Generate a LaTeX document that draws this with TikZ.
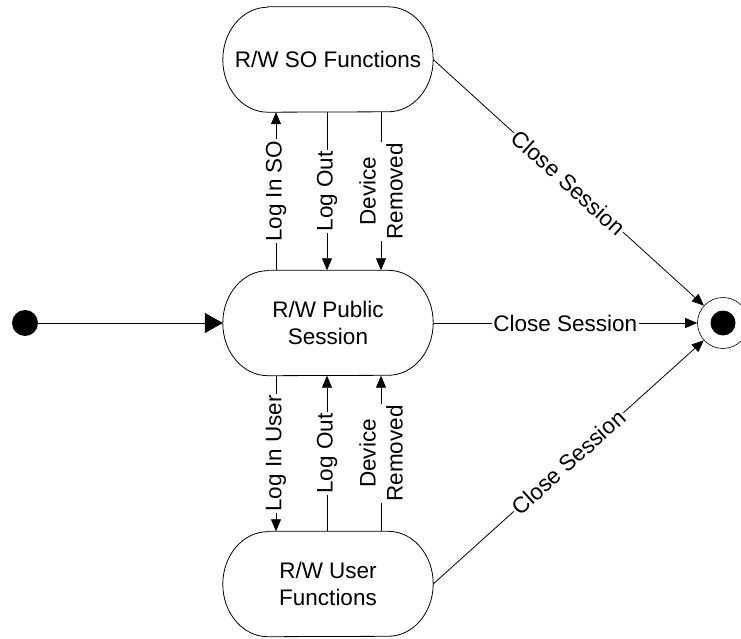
\documentclass[tikz,border=0pt]{standalone}
\usepackage{fontspec}
\setmainfont{Liberation Sans}
\usetikzlibrary{arrows.meta}
\begin{document}
\begin{tikzpicture}[x=1pt,y=1pt,
  every node/.style={font=\fontsize{22.5}{27}\selectfont},
  state/.style={minimum width=210pt,minimum height=105pt,align=center,inner sep=0pt},
  outline/.style={line width=0.8pt},
  lbl/.style={fill=white,inner sep=1.5pt,align=center},
  trans/.style={line width=0.8pt,-{Triangle[length=12pt,width=10pt]}},
  bigtrans/.style={line width=0.8pt,-{Triangle[length=18pt,width=20pt]}},
  ]
\useasboundingbox (0,0) rectangle (741,638);
\node[state] (so) at (328,578.5) {R/W SO Functions};
\node[state] (pub) at (328,315) {R/W Public\\Session};
\node[state] (usr) at (328,54) {R/W User\\Functions};
\node[circle,fill=black,minimum size=26pt,inner sep=0pt] (init) at (25,315) {};
\node[circle,draw,line width=0.6pt,minimum size=51pt,inner sep=0pt] (fin) at (723,315) {};
\node[circle,fill=black,minimum size=25pt,inner sep=0pt] (finc) at (723,315) {};
\foreach \n in {so,pub,usr}{
  \draw[outline] ([xshift=45pt]\n.north west) -- ([xshift=-45pt]\n.north east)
    arc[start angle=90,end angle=-90,x radius=45pt,y radius=52.5pt]
    -- ([xshift=45pt]\n.south west)
    arc[start angle=270,end angle=90,x radius=45pt,y radius=52.5pt] -- cycle;
}
\draw[bigtrans] (init) -- (pub.west);
% upper transitions
\draw[trans] ([xshift=-52pt]pub.north) -- node[lbl,rotate=90]{Log In SO} ([xshift=-52pt]so.south);
\draw[trans] ([xshift=-1pt]so.south) -- node[lbl,rotate=90]{Log Out} ([xshift=-1pt]pub.north);
\draw[trans] ([xshift=53pt]so.south) -- node[lbl,rotate=90]{Device\\Removed} ([xshift=53pt]pub.north);
% lower transitions
\draw[trans] ([xshift=-52pt]pub.south) -- node[lbl,rotate=90]{Log In User} ([xshift=-52pt]usr.north);
\draw[trans] ([xshift=-1pt]usr.north) -- node[lbl,rotate=90]{Log Out} ([xshift=-1pt]pub.south);
\draw[trans] ([xshift=53pt]usr.north) -- node[lbl,rotate=90]{Device\\Removed} ([xshift=53pt]pub.south);
% close session
\draw[trans] (pub.east) -- node[lbl]{Close Session} (fin);
\draw[trans] (so.east) -- node[lbl,sloped]{Close Session} (fin);
\draw[trans] (usr.east) -- node[lbl,sloped]{Close Session} (fin);
\end{tikzpicture}
\end{document}
